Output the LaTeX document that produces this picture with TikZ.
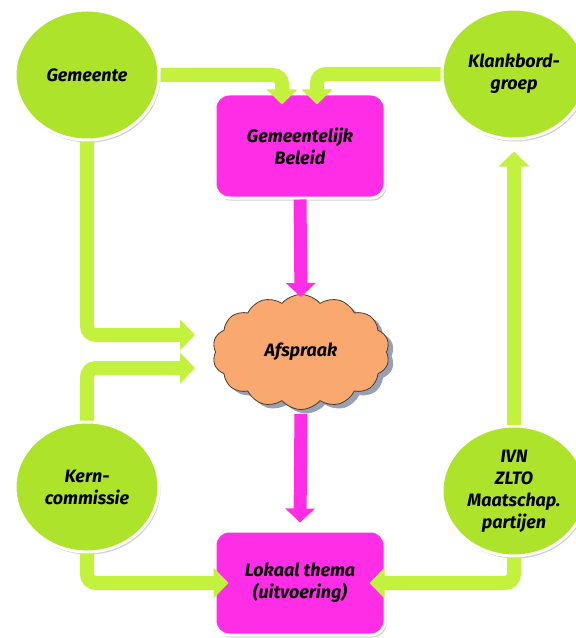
\documentclass[tikz,border=0pt]{standalone}
\usepackage{fontspec}
\setmainfont{Fira Sans}
\usetikzlibrary{shapes.geometric,shapes.symbols,arrows.meta,calc,shadows}
\definecolor{circgreen}{HTML}{AEE32B}
\definecolor{linegreen}{HTML}{C2F23E}
\definecolor{mag}{HTML}{FF2EE6}
\definecolor{peach}{HTML}{F9A870}
\definecolor{cloudedge}{HTML}{4A3A30}
\definecolor{cloudshadow}{HTML}{7D8AA0}
\tikzset{
  actor/.style={ellipse, fill=circgreen, draw=white, line width=3bp,
    minimum width=144bp, minimum height=130bp, inner sep=0pt, align=center,
    drop shadow={shadow xshift=1.5bp, shadow yshift=-2.5bp, opacity=0.3, fill=black!60}},
  pbox/.style={rectangle, rounded corners=14bp, fill=mag, draw=white, line width=3bp,
    minimum width=170bp, minimum height=104bp, align=center,
    drop shadow={shadow xshift=1.5bp, shadow yshift=-2.5bp, opacity=0.3, fill=black!60}},
  cloudnode/.style={cloud, cloud puffs=14, cloud puff arc=100, cloud ignores aspect,
    fill=peach, draw=cloudedge, line width=0.8bp,
    minimum width=177bp, minimum height=115bp, inner sep=0pt,
    drop shadow={shadow xshift=5bp, shadow yshift=-4bp, fill=cloudshadow, opacity=0.8}},
  garrow/.style={draw=linegreen, line width=14bp, rounded corners=9bp,
    -{Triangle[width=30bp,length=15bp]}},
  marrow/.style={draw=mag, line width=13bp, -{Triangle[width=29bp,length=14bp]}}
}
\begin{document}
\begin{tikzpicture}[x=1bp,y=-1bp,font=\fontsize{18}{22}\selectfont\bfseries\itshape]
\fill[white] (0,0) rectangle (576,638);
\useasboundingbox (0,0) rectangle (576,638);

\node[actor] (gem) at (87,75) {Gemeente};
\node[actor] (klk) at (514,74) {Klankbord-\\groep};
\node[actor] (kern) at (87,487) {Kern-\\commissie};
\node[actor] (ivn) at (514,491) {IVN\\ZLTO\\Maatschap.\\partijen};
\node[pbox] (bel) at (300,146) {Gemeentelijk\\Beleid};
\node[pbox] (lok) at (300,583) {Lokaal thema\\(uitvoering)};
\node[cloudnode] (afs) at (301,352) {Afspraak};

\draw[garrow] (gem.east) -| ($(bel.north)+(-18,12)$);
\draw[garrow] (klk.west) -| ($(bel.north)+(17,12)$);
\draw[garrow] (gem.south) |- ($(afs.center)+(-106,-17)$);
\draw[garrow] (kern.north) |- ($(afs.center)+(-106,16)$);
\draw[marrow] (bel.south) -- ($(afs.center)+(0,-55)$);
\draw[marrow, shorten <=4bp] (afs.south) -- ($(lok.north)+(0,-7)$);
\draw[garrow] (kern.south) |- ($(lok.west)+(15,0)$);
\draw[garrow] (ivn.south) |- ($(lok.east)+(-17,0)$);
\draw[garrow] (ivn.north) -- ($(klk.south)+(0,11)$);
\end{tikzpicture}
\end{document}
